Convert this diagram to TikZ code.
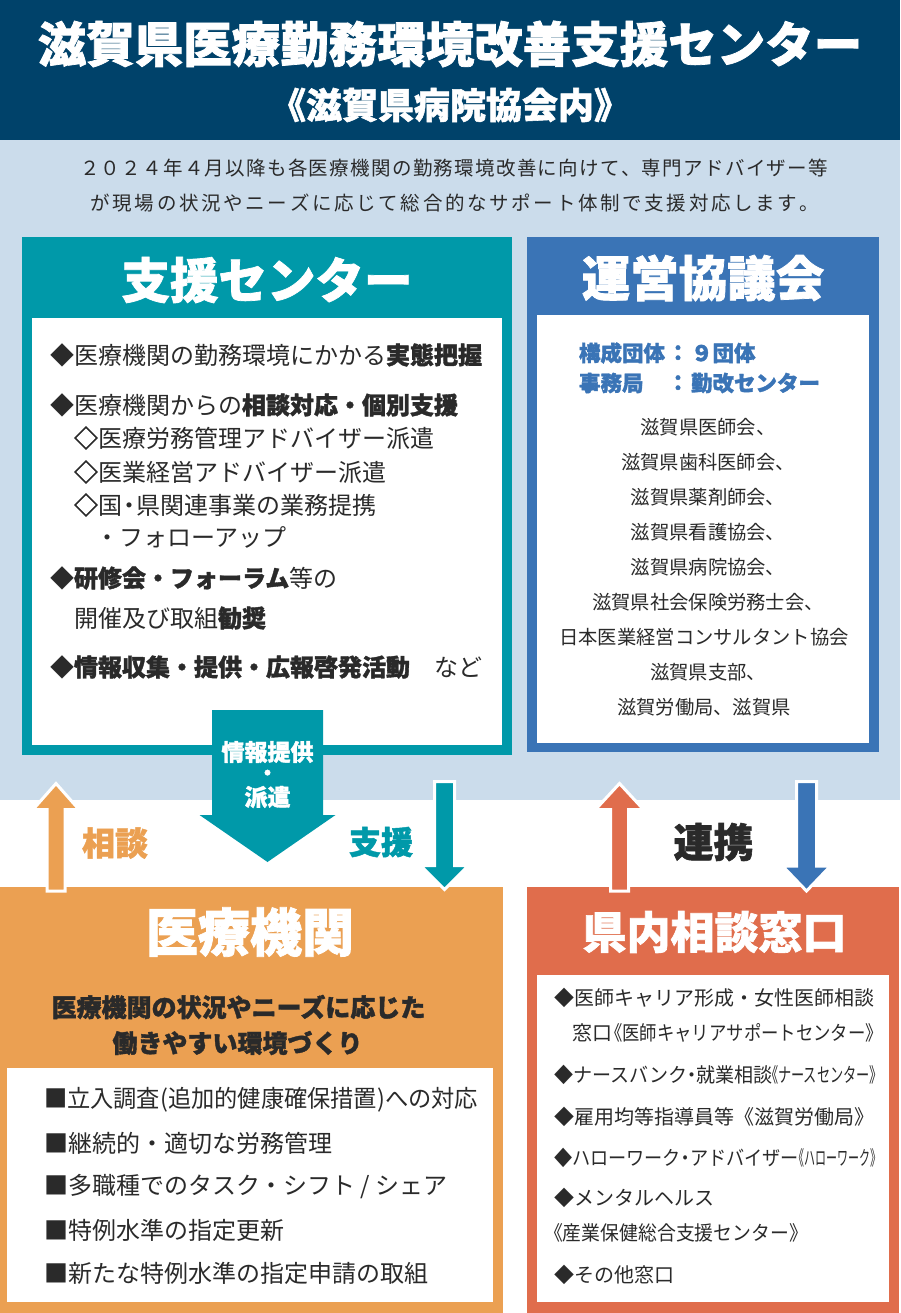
\documentclass[tikz,border=0pt]{standalone}
\usepackage{fontspec}
\usepackage{graphicx}
\setmainfont{Noto Sans CJK JP}
\newfontfamily\heavy{Noto Sans CJK JP}[BoldFeatures={FakeBold=1.5}]
\usetikzlibrary{calc}
\definecolor{navy}{HTML}{00426A}
\definecolor{pale}{HTML}{CBDCEB}
\definecolor{cTeal}{HTML}{0099A9}
\definecolor{cBlue}{HTML}{3A74B6}
\definecolor{cOrange}{HTML}{EBA052}
\definecolor{cRed}{HTML}{E06D4C}
\definecolor{ink}{HTML}{2A2A2A}
\newcommand\fs[1]{\fontsize{#1}{#1}\selectfont}
\newcommand\sq[2]{\resizebox{#1}{\height}{#2}}
\newcommand\hb[1]{{\heavy\bfseries #1}}
\makeatletter
\def\sp@end{\sp@end@}
\def\sp@end@{}
\newcommand\spreadline[2]{\hbox to #1{\sp@a#2\sp@end}}
\def\sp@a#1{\ifx#1\sp@end\else#1\expandafter\sp@b\fi}
\def\sp@b#1{\ifx#1\sp@end\else\hfil#1\expandafter\sp@b\fi}
\makeatother
\tikzset{
  txt/.style={inner sep=0pt, outer sep=0pt, text=ink},
  lw/.style={txt, anchor=west},
  boxtitle/.style={inner sep=0pt, text=white, font=\heavy\bfseries\fs{#1}},
  barrow/.style n args={3}{to path={
    ($(\tikztostart)!#1!-90:(\tikztotarget)$)
    -- ($(\tikztotarget)!#3!(\tikztostart)!#1!90:(\tikztostart)$)
    -- ($(\tikztotarget)!#3!(\tikztostart)!#2!90:(\tikztostart)$)
    -- (\tikztotarget)
    -- ($(\tikztotarget)!#3!(\tikztostart)!#2!-90:(\tikztostart)$)
    -- ($(\tikztotarget)!#3!(\tikztostart)!#1!-90:(\tikztostart)$)
    -- ($(\tikztostart)!#1!90:(\tikztotarget)$)
    -- cycle}},
  outl/.style={draw=white, line width=3pt, line join=miter},
}
\begin{document}
\begin{tikzpicture}[x=1pt, y=-1pt]
\useasboundingbox (0,0) rectangle (900,1313);
% backgrounds
\fill[white] (0,0) rectangle (900,1313);
\fill[navy] (0,0) rectangle (900,140);
\fill[pale] (0,140) rectangle (900,800);
% header
\node[inner sep=0pt, text=white, font=\heavy\bfseries\fs{48.5}] (title) at (450,44) {滋賀県医療勤務環境改善支援センター};
\node[inner sep=0pt, text=white, font=\heavy\bfseries\fs{36}] (subtitle) at (450,105) {《滋賀県病院協会内》};
\node[txt, font=\fs{19.5}] (intro1) at (454,168) {\spreadline{748pt}{２０２４年４月以降も各医療機関の勤務環境改善に向けて、専門アドバイザー等}};
\node[txt, font=\fs{19.5}] (intro2) at (455,203) {\spreadline{729pt}{が現場の状況やニーズに応じて総合的なサポート体制で支援対応します。}};

% support center box
\fill[cTeal] (22,237) rectangle (512,755);
\fill[white] (32,318) rectangle (502,745);
\node[boxtitle=48.5] (sienT) at (267,280) {支援センター};
\begin{scope}[every node/.style={lw, font=\fs{24}}]
\node (s1) at (50,355) {◆医療機関の勤務環境にかかる\hb{実態把握}};
\node (s2) at (50,405) {◆医療機関からの\hb{相談対応・個別支援}};
\node (s3) at (74,438) {\hb{◇}医療労務管理アドバイザー派遣};
\node (s4) at (74,472) {\hb{◇}医業経営アドバイザー派遣};
\node (s5) at (74,505) {\hb{◇}国\kern-5pt・\kern-5pt県関連事業の業務提携};
\node (s6) at (95,537) {・フォローアップ};
\node (s7) at (50,578) {◆\hb{研修会・フォーラム}等の};
\node (s8) at (74,618) {開催及び取組\hb{勧奨}};
\node (s9) at (50,667) {◆\hb{情報収集・提供・広報啓発活動}　など};
\end{scope}

% council box
\fill[cBlue] (527,237) rectangle (879,752);
\fill[white] (537,315) rectangle (869,743);
\node[boxtitle=48.5] (unT) at (703,278) {運営協議会};
\begin{scope}[every node/.style={txt, text=cBlue, font=\heavy\bfseries\fs{21.5}}]
\node[anchor=west] (k1) at (579,353) {構成団体};
\node (k2) at (678,353) {：};
\node[anchor=west] (k3) at (691,353) {９団体};
\node[anchor=west] (k4) at (579,383) {事務局};
\node (k5) at (678,383) {：};
\node[anchor=west] (k6) at (691,383) {勤改センター};
\end{scope}
\begin{scope}[every node/.style={txt, text=ink, font=\fs{19.3}}]
\node (m1) at (708,427) {滋賀県医師会、};
\node (m2) at (708,462) {滋賀県歯科医師会、};
\node (m3) at (708,497) {滋賀県薬剤師会、};
\node (m4) at (708,532) {滋賀県看護協会、};
\node (m5) at (708,567) {滋賀県病院協会、};
\node (m6) at (708,602) {滋賀県社会保険労務士会、};
\node (m7) at (704,637) {日本医業経営コンサルタント協会};
\node (m8) at (708,672) {滋賀県支部、};
\node (m9) at (704,707) {滋賀労働局、滋賀県};
\end{scope}

% lower boxes
\fill[cOrange] (0,887) rectangle (503,1313);
\fill[white] (7,1068) rectangle (493,1302);
\node[boxtitle=52] (iryoT) at (250,932) {医療機関};
\node[txt, text=ink, font=\heavy\bfseries\fs{25}] (iryoS1) at (238.5,1007) {医療機関の状況やニーズに応じた};
\node[txt, text=ink, font=\heavy\bfseries\fs{25}] (iryoS2) at (237.5,1043) {働きやすい環境づくり};
\begin{scope}[every node/.style={lw, font=\fs{24}}]
\node (i1) at (44,1100) {\sq{434pt}{■立入調査(追加的健康確保措置)への対応}};
\node (i2) at (44,1143) {■継続的・適切な労務管理};
\node (i3) at (44,1187) {■多職種でのタスク・シフト / シェア};
\node (i4) at (44,1230) {■特例水準の指定更新};
\node (i5) at (44,1273) {■新たな特例水準の指定申請の取組};
\end{scope}

\fill[cRed] (527,887) rectangle (899,1313);
\fill[white] (537,975) rectangle (889,1302);
\node[boxtitle=44] (madoT) at (714.5,932) {県内相談窓口};
\begin{scope}[every node/.style={lw, font=\fs{20}}]
\node (r1) at (554,998) {◆医師キャリア形成・女性医師相談};
\node (r2) at (572,1033) {窓口\kern-7pt\sq{278pt}{《医師キャリアサポートセンター》}};
\node (r3) at (554,1075) {\sq{219pt}{◆ナースバンク\kern-5pt・\kern-5pt就業相談}\kern-8pt\sq{118pt}{《ナースセンター》}};
\node (r4) at (554,1117) {◆雇用均等指導員等《滋賀労働局》};
\node (r5) at (554,1158) {\sq{245pt}{◆ハローワーク\kern-5pt・\kern-5ptアドバイザー}\kern-6pt\sq{88pt}{《ハローワーク》}};
\node (r6) at (554,1198) {◆メンタルヘルス};
\node (r7) at (544,1233) {\sq{264pt}{《産業保健総合支援センター》}};
\node (r8) at (554,1275) {◆その他窓口};
\end{scope}

% arrows
\coordinate (bigS) at (267.5,710);
\coordinate (bigT) at (267.5,862);
\path[fill=cTeal, barrow={55.5pt}{68pt}{47pt}] (bigS) to (bigT);
\node[txt, text=white, font=\heavy\bfseries\fs{23}] (jt1) at (267.5,752) {情報提供};
\node[txt, text=white, font=\heavy\bfseries\fs{20}] (jt2) at (267.5,775) {・};
\node[txt, text=white, font=\heavy\bfseries\fs{23}] (jt3) at (267.5,797) {派遣};

\coordinate (oaS) at (56,891);
\coordinate (oaT) at (56,783.5);
\path[fill=cOrange, outl, barrow={9pt}{23pt}{26pt}] (oaS) to (oaT);
\coordinate (taS) at (444.5,781.5);
\coordinate (taT) at (444.5,889.5);
\path[fill=cTeal, outl, barrow={10pt}{24pt}{24pt}] (taS) to (taT);
\coordinate (raS) at (619.5,891);
\coordinate (raT) at (619.5,783.5);
\path[fill=cRed, outl, barrow={9pt}{24pt}{26pt}] (raS) to (raT);
\coordinate (baS) at (806.5,781.5);
\coordinate (baT) at (806.5,891);
\path[fill=cBlue, outl, barrow={10pt}{24pt}{25pt}] (baS) to (baT);

\node[txt, text=cOrange, font=\heavy\bfseries\fs{33}] (soudan) at (115,843) {相談};
\node[txt, text=cTeal, font=\heavy\bfseries\fs{32}] (shien) at (381,842) {支援};
\node[txt, text=ink, font=\heavy\bfseries\fs{40}] (renkei) at (713.5,842) {連携};
\end{tikzpicture}
\end{document}
